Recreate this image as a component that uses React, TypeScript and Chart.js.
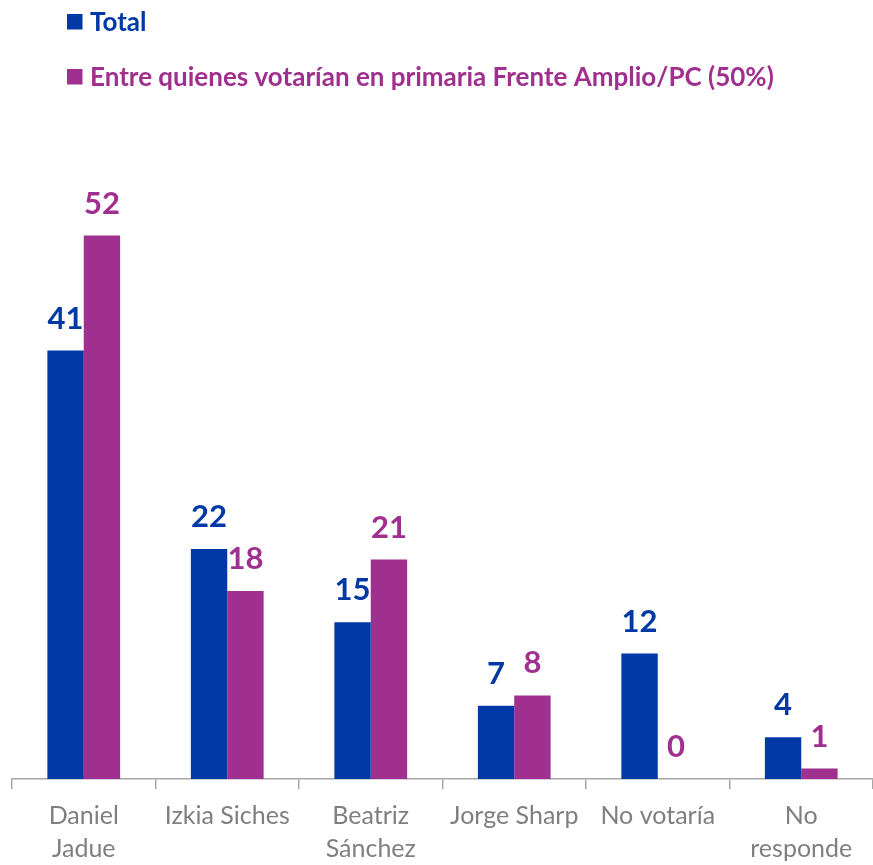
import React, { useEffect, useRef } from "react";
import { Chart, registerables } from "chart.js";

Chart.register(...registerables);

const categories: (string | string[])[] = [
  ["Daniel", "Jadue"],
  "Izkia Siches",
  ["Beatriz", "Sánchez"],
  "Jorge Sharp",
  "No votaría",
  ["No", "responde"],
];
const totalValues = [41, 22, 15, 7, 12, 4];
const frenteValues = [52, 18, 21, 8, 0, 1];
const seriesLabels = ["Total", "Entre quienes votarían en primaria Frente Amplio/PC (50%)"];
const seriesColors = ["#0039A6", "#A0308F"];

const FONT = "Lato, 'Open Sans', sans-serif";

const legendPlugin = {
  id: "customLegend",
  afterDraw(chart: any) {
    const ctx = chart.ctx;
    ctx.save();
    chart.data.datasets.forEach((ds: any, i: number) => {
      const baseY = 30.5 + i * 55;
      ctx.fillStyle = ds.backgroundColor;
      ctx.fillRect(67, baseY - 16.5, 15.5, 15.5);
      ctx.font = `bold 26px ${FONT}`;
      ctx.textAlign = "left";
      ctx.textBaseline = "alphabetic";
      ctx.fillText(ds.label, 90, baseY);
    });
    ctx.restore();
  },
};

const valueLabelPlugin = {
  id: "valueLabels",
  afterDatasetsDraw(chart: any) {
    const ctx = chart.ctx;
    ctx.save();
    chart.data.datasets.forEach((ds: any, i: number) => {
      const meta = chart.getDatasetMeta(i);
      meta.data.forEach((el: any, j: number) => {
        ctx.fillStyle = ds.backgroundColor;
        ctx.font = `bold 31px ${FONT}`;
        ctx.textAlign = "center";
        ctx.textBaseline = "alphabetic";
        ctx.fillText(String(ds.data[j]), el.x, el.y - 22);
      });
    });
    ctx.restore();
  },
};

export default function App() {
  const ref = useRef<HTMLCanvasElement>(null);
  useEffect(() => {
    if (!ref.current) return;
    const chart = new Chart(ref.current, {
      type: "bar",
      data: {
        labels: categories,
        datasets: [
          {
            label: seriesLabels[0],
            data: totalValues,
            backgroundColor: seriesColors[0],
            borderWidth: 0,
            categoryPercentage: 0.507,
            barPercentage: 1,
          },
          {
            label: seriesLabels[1],
            data: frenteValues,
            backgroundColor: seriesColors[1],
            borderWidth: 0,
            categoryPercentage: 0.507,
            barPercentage: 1,
          },
        ],
      },
      options: {
        responsive: false,
        animation: false,
        layout: { padding: { left: 12, right: 0, top: 152, bottom: -10 } },
        plugins: {
          legend: { display: false },
          tooltip: { enabled: false },
        },
        scales: {
          x: {
            offset: true,
            grid: {
              display: true,
              offset: true,
              drawOnChartArea: false,
              drawTicks: true,
              tickLength: 10,
              color: "#A6A6A6",
              lineWidth: 1.5,
            },
            border: { display: true, color: "#A6A6A6", width: 1.5 },
            ticks: {
              color: "#7F7F7F",
              padding: 10,
              font: { family: FONT, size: 25, lineHeight: "33px" as any },
              maxRotation: 0,
              autoSkip: false,
            },
          },
          y: {
            display: false,
            min: 0,
            max: 60,
          },
        },
      },
      plugins: [legendPlugin, valueLabelPlugin],
    });
    return () => chart.destroy();
  }, []);
  return (
    <div style={{ position: "absolute", left: 0, top: 0, width: 873, height: 865, background: "#fff" }}>
      <canvas ref={ref} width={873} height={865} style={{ display: "block" }} />
    </div>
  );
}
